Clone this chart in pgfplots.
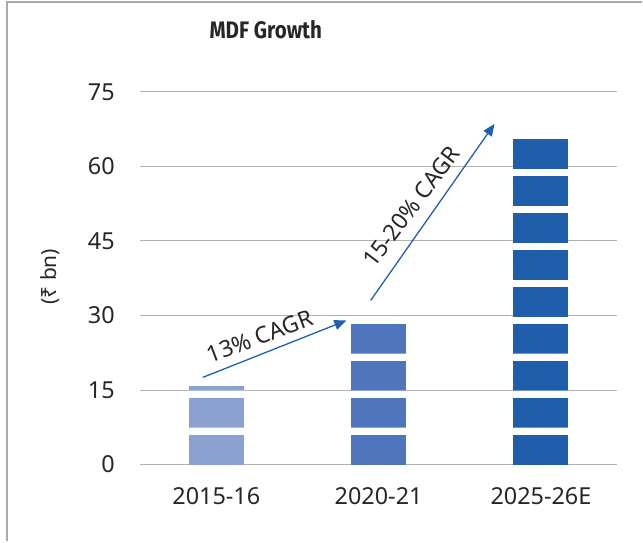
\documentclass[border=0pt]{standalone}
\usepackage{fontspec}
\setmainfont{Noto Sans}
\newfontfamily\titlefont[FakeStretch=0.86]{Fira Sans}
\usepackage{pgfplots}
\pgfplotsset{compat=1.18}
\usetikzlibrary{arrows.meta}
\definecolor{cA}{RGB}{139,161,209}
\definecolor{cB}{RGB}{79,117,189}
\definecolor{cC}{RGB}{31,94,170}
\definecolor{arr}{RGB}{31,95,175}
\definecolor{txt}{RGB}{38,38,38}
\definecolor{gridc}{RGB}{178,178,178}
\definecolor{framec}{RGB}{170,170,170}
\begin{document}
\begin{tikzpicture}
\path (0bp,0bp) rectangle (643bp,542bp);
\draw[framec, line width=1.3bp] (7bp,0bp) -- (7bp,540bp) -- (643bp,540bp);
\node[text=txt, font=\titlefont\bfseries\fontsize{24}{28}\selectfont] at (266bp,512bp) {MDF Growth};
\node[text=txt, rotate=90, font=\fontsize{21}{25}\selectfont] at (50bp,265bp) {(₹ bn)};
\begin{axis}[
  at={(140bp,77bp)}, anchor=south west,
  scale only axis, width=478bp, height=373bp,
  xmin=-0.471, xmax=2.471, ymin=0, ymax=75,
  ytick={0,15,30,45,60,75},
  xtick={0,1,2}, xticklabels={2015-16,2020-21,2025-26E},
  ybar stacked, bar width=55bp,
  axis line style={draw=none},
  major tick length=0pt,
  ymajorgrids, grid style={gridc, line width=1bp},
  /pgf/number format/assume math mode=true,
  ticklabel style={text=txt, font=\fontsize{23.5}{27}\selectfont},
  yticklabel style={anchor=east, inner sep=0pt, xshift=-25bp},
  xticklabel style={anchor=base, inner sep=0pt, yshift=-40bp},
  clip=false,
]
% level 1
\addplot[fill=cA,draw=none] coordinates {(0,5.96)(1,0)(2,0)};
\addplot[fill=cB,draw=none] coordinates {(0,0)(1,5.96)(2,0)};
\addplot[fill=cC,draw=none] coordinates {(0,0)(1,0)(2,5.96)};
\addplot[fill=white,draw=none] coordinates {(0,1.48)(1,1.48)(2,1.48)};
% level 2
\addplot[fill=cA,draw=none] coordinates {(0,5.96)(1,0)(2,0)};
\addplot[fill=cB,draw=none] coordinates {(0,0)(1,5.96)(2,0)};
\addplot[fill=cC,draw=none] coordinates {(0,0)(1,0)(2,5.96)};
\addplot[fill=white,draw=none] coordinates {(0,1.48)(1,1.48)(2,1.48)};
% level 3
\addplot[fill=cA,draw=none] coordinates {(0,1.00)(1,0)(2,0)};
\addplot[fill=cB,draw=none] coordinates {(0,0)(1,5.96)(2,0)};
\addplot[fill=cC,draw=none] coordinates {(0,0)(1,0)(2,5.96)};
\addplot[fill=white,draw=none] coordinates {(0,0)(1,1.48)(2,1.48)};
% level 4
\addplot[fill=cB,draw=none] coordinates {(0,0)(1,5.96)(2,0)};
\addplot[fill=cC,draw=none] coordinates {(0,0)(1,0)(2,5.96)};
\addplot[fill=white,draw=none] coordinates {(0,0)(1,0)(2,1.48)};
% level 5
\addplot[fill=cC,draw=none] coordinates {(0,0)(1,0)(2,5.96)};
\addplot[fill=white,draw=none] coordinates {(0,0)(1,0)(2,1.48)};
% level 6
\addplot[fill=cC,draw=none] coordinates {(0,0)(1,0)(2,5.96)};
\addplot[fill=white,draw=none] coordinates {(0,0)(1,0)(2,1.48)};
% level 7
\addplot[fill=cC,draw=none] coordinates {(0,0)(1,0)(2,5.96)};
\addplot[fill=white,draw=none] coordinates {(0,0)(1,0)(2,1.48)};
% level 8
\addplot[fill=cC,draw=none] coordinates {(0,0)(1,0)(2,5.96)};
\addplot[fill=white,draw=none] coordinates {(0,0)(1,0)(2,1.48)};
% level 9
\addplot[fill=cC,draw=none] coordinates {(0,0)(1,0)(2,5.96)};
% arrows and labels
\draw[arr, line width=1.3bp, -{Triangle[length=12bp,width=10bp]}] (axis cs:-0.083,17.54) -- (axis cs:0.801,28.99);
\draw[arr, line width=1.3bp, -{Triangle[length=12bp,width=10bp]}] (axis cs:0.951,33.03) -- (axis cs:1.714,68.56);
\node[rotate=20.6, text=txt, font=\fontsize{23}{27}\selectfont] at (axis cs:0.268,25.80) {13\% CAGR};
\node[rotate=52.9, text=txt, font=\fontsize{23}{27}\selectfont] at (axis cs:1.201,51.94) {15-20\% CAGR};
\end{axis}
\end{tikzpicture}
\end{document}
